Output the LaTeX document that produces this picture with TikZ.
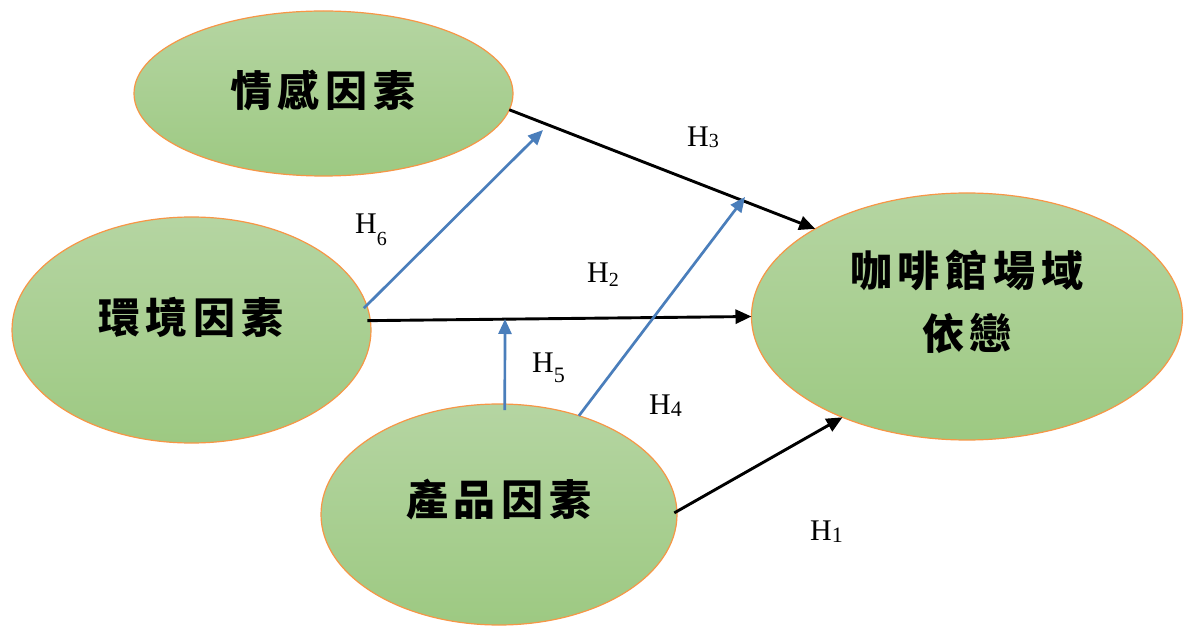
\documentclass[tikz,border=0pt]{standalone}
\usepackage{fontspec}
\setmainfont{Liberation Serif}
\newfontfamily\cjk{Noto Sans CJK TC}
\usetikzlibrary{arrows.meta,shapes.geometric}
\definecolor{gtop}{RGB}{181,213,162}
\definecolor{gbot}{RGB}{157,201,130}
\definecolor{edgeor}{RGB}{247,150,70}
\definecolor{ablue}{RGB}{74,126,187}
\newcommand\cs{\hspace{6pt}}
\newcommand\Hlab[3]{H\raisebox{-#3pt}{\fontsize{#2}{#2}\selectfont #1}}
\begin{document}
\begin{tikzpicture}[x=1pt,y=-1pt,
 bub/.style={ellipse, draw=edgeor, line width=1.2pt, top color=gtop, bottom color=gbot, inner sep=0pt, outer sep=0pt},
 cjktext/.style={inner sep=0pt, align=center, font=\cjk\bfseries\fontsize{42}{63}\selectfont},
 blk/.style={draw=black, line width=2.9pt, -{Triangle[length=16pt,width=14pt]}},
 blu/.style={draw=ablue, line width=2.7pt, -{Triangle[length=15pt,width=13pt]}},
 hl/.style={anchor=base west, inner sep=0pt, font=\fontsize{30}{36}\selectfont}]
\useasboundingbox (0,0) rectangle (1184,628);
\fill[white] (0,0) rectangle (1184,628);
% ellipses
\node[bub, minimum width=379pt, minimum height=165pt] (emo) at (323.5,93.5) {};
\node[bub, minimum width=359pt, minimum height=226pt] (env) at (191.5,330) {};
\node[bub, minimum width=356pt, minimum height=221pt] (prod) at (499,514.5) {};
\node[bub, minimum width=431pt, minimum height=247pt] (caf) at (967,316.5) {};
% texts
\node[cjktext] (emot) at (323,90) {情\cs 感\cs 因\cs 素};
\node[cjktext] (envt) at (191,317) {環\cs 境\cs 因\cs 素};
\node[cjktext] (prodt) at (499,500) {產\cs 品\cs 因\cs 素};
\node[cjktext] (caft) at (967,301.5) {咖\cs 啡\cs 館\cs 場\cs 域\\依\cs 戀};
% free ends
\coordinate (h6end) at (543,130);
\coordinate (h5end) at (505,319);
\coordinate (h4end) at (745,197);
% connectors
\draw[blk] (emo.-5.6) -- (caf.150.8);
\draw[blu, shorten <=-4pt] (env.8.5) -- (h6end);
\draw[blk, shorten <=-3pt] (env.3.7) -- (caf.west);
\draw[blu, shorten <=-6pt] (prod.87) -- (h5end);
\draw[blu] (prod.51.2) -- (h4end);
\draw[blk, shorten <=-3pt] (prod.1.4) -- (caf.219.1);
% labels
\node[hl] (l3) at (687,147) {\Hlab{3}{20}{1}};
\node[hl] (l6) at (355,234) {\Hlab{6}{20}{12}};
\node[hl] (l2) at (587,283) {\Hlab{2}{20}{4}};
\node[hl] (l5) at (532,373) {\Hlab{5}{22}{10}};
\node[hl] (l4) at (649,414) {\Hlab{4}{22}{2}};
\node[hl] (l1) at (810,540) {\Hlab{1}{22}{2}};
\end{tikzpicture}
\end{document}
